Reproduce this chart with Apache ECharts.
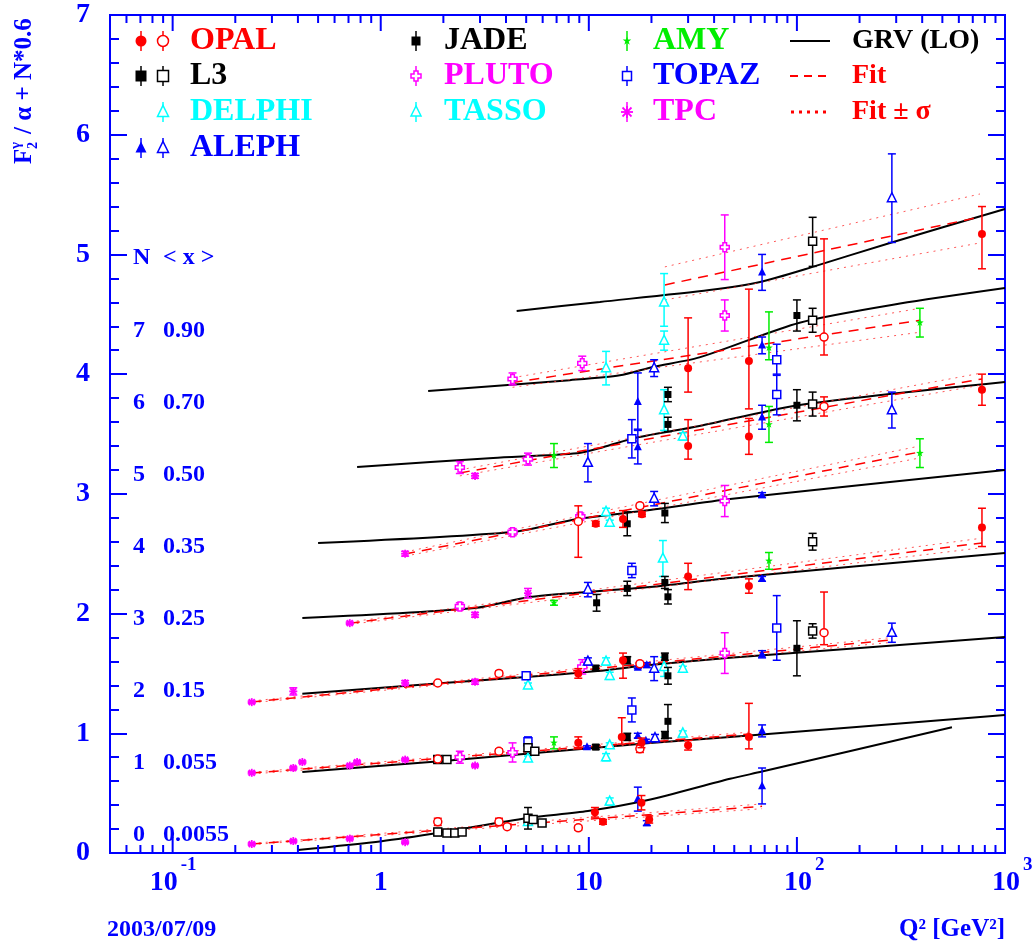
<!DOCTYPE html>
<html>
<head>
<meta charset="utf-8">
<script src="https://cdn.jsdelivr.net/npm/echarts@6/dist/echarts.min.js"></script>
<style>
html, body { margin: 0; background: #fff; }
#chart { width: 1036px; height: 944px; }
</style>
</head>
<body>
<div id="chart"></div>
<script>
// points: [Q2, F2/alpha + N*0.6, errDown, errUp]
var opalFilled = [
  [10.7, 0.34, 0.04, 0.04], [11.7, 0.26, 0.02, 0.02], [17.9, 0.42, 0.06, 0.06], [19.5, 0.28, 0.03, 0.03],
  [8.9, 0.92, 0.05, 0.05], [14.4, 0.97, 0.06, 0.16], [17.9, 0.92, 0.04, 0.04], [30, 0.90, 0.04, 0.04], [58.8, 0.97, 0.1, 0.28],
  [8.9, 1.50, 0.04, 0.04], [14.6, 1.61, 0.15, 0.06],
  [30, 2.31, 0.11, 0.11], [58.8, 2.23, 0.06, 0.06], [775, 2.72, 0.16, 0.16],
  [10.8, 2.75, 0.02, 0.02], [14.6, 2.79, 0.07, 0.07], [18, 2.83, 0.02, 0.02],
  [30, 3.40, 0.11, 0.22], [58.8, 3.48, 0.15, 0.15], [775, 3.87, 0.13, 0.13],
  [30, 4.05, 0.2, 0.42], [58.8, 4.11, 0.4, 0.6],
  [775, 5.17, 0.29, 0.23]
];
var opalOpen = [
  [1.88, 0.26, 0.03, 0.03], [3.7, 0.26, 0.03, 0.03], [4.05, 0.22, 0.01, 0.01], [8.9, 0.21, 0.02, 0.02],
  [1.88, 0.785, 0.01, 0.01], [3.7, 0.85, 0.02, 0.02], [17.6, 0.87, 0.03, 0.03],
  [1.88, 1.42, 0.01, 0.01], [3.7, 1.50, 0.02, 0.02], [17.6, 1.58, 0.02, 0.02], [135, 1.84, 0.1, 0.34],
  [8.9, 2.77, 0.3, 0.13], [17.6, 2.90, 0.02, 0.02],
  [135, 3.73, 0.08, 0.08],
  [135, 4.31, 0.15, 0.82]
];
var l3Open = [
  [1.88, 0.175, 0.03, 0.03], [2.08, 0.167, 0.01, 0.01], [2.27, 0.167, 0.01, 0.01], [2.46, 0.175, 0.01, 0.01],
  [5.1, 0.29, 0.09, 0.09], [5.4, 0.28, 0.02, 0.02], [5.96, 0.25, 0.02, 0.02],
  [1.88, 0.78, 0.01, 0.01], [2.08, 0.78, 0.01, 0.01], [5.1, 0.88, 0.02, 0.02], [5.5, 0.85, 0.01, 0.01],
  [119, 1.855, 0.06, 0.06], [119, 2.60, 0.07, 0.07], [119, 3.75, 0.1, 0.1], [119, 4.45, 0.1, 0.1], [119, 5.11, 0.21, 0.2]
];
var jade = [
  [10.8, 0.885, 0.02, 0.02], [15.3, 0.97, 0.03, 0.03], [23.2, 0.985, 0.03, 0.03], [24, 1.10, 0.14, 0.14],
  [10.8, 1.545, 0.02, 0.02], [15.3, 1.61, 0.03, 0.03], [23.2, 1.64, 0.03, 0.03], [24, 1.48, 0.07, 0.07], [100, 1.71, 0.23, 0.23],
  [10.9, 2.09, 0.07, 0.07], [15.3, 2.21, 0.06, 0.06], [23.2, 2.26, 0.05, 0.05], [24, 2.14, 0.06, 0.06],
  [15.3, 2.75, 0.1, 0.1], [23.2, 2.84, 0.08, 0.08],
  [24, 3.58, 0.06, 0.06], [100, 3.74, 0.13, 0.13],
  [24, 3.83, 0.06, 0.06], [100, 4.49, 0.13, 0.13]
];
var delphi = [
  [5.1, 0.26, 0.01, 0.01], [12.6, 0.43, 0.03, 0.03],
  [5.1, 0.79, 0.02, 0.02], [28.3, 1.0, 0.02, 0.02],
  [5.1, 1.40, 0.02, 0.02], [23, 1.555, 0.08, 0.08], [28.3, 1.54, 0.02, 0.02],
  [22.7, 2.46, 0.15, 0.15],
  [23, 3.70, 0.17, 0.17], [28.3, 3.48, 0.03, 0.03],
  [23, 4.28, 0.08, 0.08], [23, 4.60, 0.2, 0.24]
];
var tasso = [
  [12.1, 0.80, 0.03, 0.03], [12.6, 0.90, 0.02, 0.02],
  [12.1, 1.60, 0.03, 0.03], [12.6, 1.48, 0.03, 0.03],
  [12.1, 2.85, 0.03, 0.03], [12.6, 2.76, 0.02, 0.02],
  [12.1, 4.05, 0.14, 0.14]
];
var alephFilled = [
  [17.2, 0.45, 0.1, 0.1], [19, 0.25, 0.02, 0.02], [68, 0.56, 0.15, 0.15],
  [9.8, 0.885, 0.01, 0.01], [17.2, 0.98, 0.02, 0.02], [18.8, 0.94, 0.01, 0.01], [68, 1.02, 0.05, 0.05],
  [17.2, 1.55, 0.01, 0.01], [19, 1.57, 0.02, 0.02], [68, 1.66, 0.03, 0.03],
  [68, 2.29, 0.02, 0.02],
  [68, 2.99, 0.02, 0.02],
  [17.2, 3.39, 0.14, 0.14], [17.2, 3.77, 0.23, 0.24], [68, 3.64, 0.1, 0.1],
  [68, 4.24, 0.07, 0.07],
  [68, 4.85, 0.15, 0.15]
];
var alephOpen = [
  [20.8, 0.96, 0.03, 0.03],
  [9.9, 1.60, 0.03, 0.03], [20.6, 1.54, 0.1, 0.1], [286, 1.84, 0.08, 0.08],
  [9.9, 2.2, 0.06, 0.06],
  [20.6, 2.96, 0.06, 0.06],
  [9.9, 3.26, 0.16, 0.16], [286, 3.70, 0.15, 0.15],
  [20.6, 4.05, 0.07, 0.07],
  [286, 5.47, 0.37, 0.37]
];
var pluto = [
  [2.4, 0.80, 0.05, 0.05], [4.3, 0.84, 0.08, 0.08],
  [9.3, 1.555, 0.06, 0.06], [45, 1.67, 0.17, 0.17],
  [2.4, 2.06, 0.03, 0.03],
  [4.3, 2.68, 0.03, 0.03], [9.1, 2.81, 0.03, 0.03], [45, 2.94, 0.13, 0.13],
  [2.4, 3.22, 0.05, 0.05], [5.1, 3.29, 0.05, 0.05],
  [4.3, 3.96, 0.05, 0.05], [9.3, 4.09, 0.06, 0.06], [45, 4.49, 0.13, 0.13],
  [45, 5.06, 0.27, 0.27]
];
var amy = [
  [6.8, 0.92, 0.05, 0.05],
  [6.8, 2.09, 0.02, 0.02], [73.4, 2.44, 0.07, 0.07],
  [390, 3.34, 0.12, 0.12],
  [6.8, 3.32, 0.1, 0.1], [73.4, 3.58, 0.15, 0.15],
  [73.4, 4.22, 0.1, 0.3], [390, 4.43, 0.12, 0.12]
];
var topaz = [
  [5.1, 0.93, 0.04, 0.04], [16.1, 1.195, 0.1, 0.1],
  [5.0, 1.48, 0.02, 0.02], [80, 1.88, 0.27, 0.27],
  [16.1, 2.36, 0.06, 0.06],
  [16.1, 3.46, 0.16, 0.16], [80, 3.83, 0.17, 0.17],
  [80, 4.12, 0.13, 0.13]
];
var tpc = [
  [0.24, 0.075, 0.01, 0.01], [0.38, 0.10, 0.01, 0.01], [0.71, 0.12, 0.01, 0.01], [1.31, 0.09, 0.01, 0.01],
  [0.24, 0.67, 0.01, 0.01], [0.38, 0.71, 0.01, 0.01], [0.42, 0.76, 0.01, 0.01], [0.71, 0.73, 0.01, 0.01],
  [0.77, 0.76, 0.01, 0.01], [1.31, 0.78, 0.01, 0.01], [2.84, 0.73, 0.01, 0.01],
  [0.24, 1.26, 0.01, 0.01], [0.38, 1.35, 0.03, 0.03], [1.31, 1.42, 0.02, 0.02], [2.84, 1.43, 0.02, 0.02],
  [0.71, 1.92, 0.01, 0.01], [2.84, 1.99, 0.02, 0.02], [5.1, 2.17, 0.04, 0.04],
  [1.31, 2.50, 0.02, 0.02],
  [2.84, 3.15, 0.02, 0.02]
];

// GRV (LO) curves, one per N bin
var grv = [
  [[0.4, 0.025], [1.01, 0.098], [2, 0.175], [5, 0.29], [9.9, 0.35], [19, 0.44], [47.7, 0.62], [68, 0.68], [556, 1.05]],
  [[0.42, 0.677], [2, 0.769], [19.7, 0.919], [47.7, 0.969], [1000, 1.153]],
  [[0.42, 1.33], [2, 1.42], [5, 1.47], [11, 1.52], [19.7, 1.57], [47.7, 1.63], [1000, 1.805]],
  [[0.42, 1.963], [2.84, 2.047], [5.2, 2.139], [19.7, 2.222], [47.7, 2.297], [1000, 2.506]],
  [[0.5, 2.59], [4.3, 2.682], [8.8, 2.79], [19.7, 2.865], [47.7, 2.957], [1000, 3.2]],
  [[0.77, 3.225], [3.47, 3.30], [8.8, 3.34], [11.7, 3.39], [17, 3.47], [34, 3.567], [103, 3.743], [1000, 3.935]],
  [[1.69, 3.86], [8.1, 3.95], [14.1, 3.99], [20.3, 4.06], [34, 4.14], [103, 4.43], [313, 4.59], [1000, 4.72]],
  [[4.5, 4.528], [11.3, 4.603], [38, 4.703], [66.5, 4.77], [119, 4.896], [280, 5.096], [1000, 5.38]]
];
// fit and fit +- sigma
var fit = [
  [[0.24, 0.075], [68, 0.39]],
  [[0.24, 0.668], [59.5, 0.994]],
  [[0.24, 1.262], [286, 1.78]],
  [[0.71, 1.92], [775, 2.59]],
  [[1.31, 2.498], [390, 3.35]],
  [[2.4, 3.175], [775, 3.96]],
  [[4.3, 3.93], [390, 4.45]],
  [[23.2, 4.745], [758, 5.313]]
];
var fitHi = [
  [[0.24, 0.08], [68, 0.41]],
  [[0.24, 0.675], [59.5, 1.01]],
  [[0.24, 1.27], [286, 1.80]],
  [[0.71, 1.93], [775, 2.63]],
  [[1.31, 2.515], [390, 3.40]],
  [[2.4, 3.20], [775, 4.01]],
  [[4.3, 3.97], [390, 4.55]],
  [[23.2, 4.896], [758, 5.505]]
];
var fitLo = [
  [[0.24, 0.07], [68, 0.37]],
  [[0.24, 0.66], [59.5, 0.98]],
  [[0.24, 1.255], [286, 1.76]],
  [[0.71, 1.91], [775, 2.55]],
  [[1.31, 2.48], [390, 3.30]],
  [[2.4, 3.15], [775, 3.91]],
  [[4.3, 3.89], [390, 4.35]],
  [[23.2, 4.62], [758, 5.096]]
];

var nBins = ['0', '1', '2', '3', '4', '5', '6', '7'];
var meanX = ['0.0055', '0.055', '0.15', '0.25', '0.35', '0.50', '0.70', '0.90'];
var xMajor = [0.1, 1, 10, 100, 1000];
var xMinor = [0.06, 0.07, 0.08, 0.09, 0.2, 0.3, 0.4, 0.5, 0.6, 0.7, 0.8, 0.9,
  2, 3, 4, 5, 6, 7, 8, 9, 20, 30, 40, 50, 60, 70, 80, 90, 200, 300, 400, 500, 600, 700, 800, 900];
var xBase = ['10', '1', '10', '10', '10'];
var xSup = ['-1', '', '', '2', '3'];

var BLUE = '#0000ff';
var SERIF = '"Liberation Serif", "Times New Roman", serif';

function marker(shape, cx, cy, c, s) {
  var h = s / 2;
  switch (shape) {
    case 'circle':
      return [{ type: 'circle', shape: { cx: cx, cy: cy, r: h }, style: { fill: c } }];
    case 'ocircle':
      return [{ type: 'circle', shape: { cx: cx, cy: cy, r: h }, style: { fill: '#fff', stroke: c, lineWidth: 1.5 } }];
    case 'square':
      return [{ type: 'rect', shape: { x: cx - h, y: cy - h, width: s, height: s }, style: { fill: c } }];
    case 'osquare':
      return [{ type: 'rect', shape: { x: cx - h, y: cy - h, width: s, height: s }, style: { fill: '#fff', stroke: c, lineWidth: 1.5 } }];
    case 'triangle':
    case 'otriangle':
      return [{
        type: 'polygon',
        shape: { points: [[cx, cy - s * 0.6], [cx - h, cy + s * 0.4], [cx + h, cy + s * 0.4]] },
        style: shape === 'triangle' ? { fill: c } : { fill: '#fff', stroke: c, lineWidth: 1.5 }
      }];
    case 'ocross':
      var a = s * 0.2;
      return [{
        type: 'polygon',
        shape: { points: [[cx - a, cy - h], [cx + a, cy - h], [cx + a, cy - a], [cx + h, cy - a], [cx + h, cy + a],
          [cx + a, cy + a], [cx + a, cy + h], [cx - a, cy + h], [cx - a, cy + a], [cx - h, cy + a], [cx - h, cy - a], [cx - a, cy - a]] },
        style: { fill: '#fff', stroke: c, lineWidth: 1.5 }
      }];
    case 'star':
      var pts = [];
      for (var i = 0; i < 10; i++) {
        var r = i % 2 ? h * 0.4 : h;
        var ang = -Math.PI / 2 + i * Math.PI / 5;
        pts.push([cx + r * Math.cos(ang), cy + r * Math.sin(ang)]);
      }
      return [{ type: 'polygon', shape: { points: pts }, style: { fill: c } }];
    case 'asterisk':
      var d = h * 0.75;
      return [
        { type: 'line', shape: { x1: cx, y1: cy - h, x2: cx, y2: cy + h }, style: { stroke: c, lineWidth: 1.8 } },
        { type: 'line', shape: { x1: cx - h, y1: cy, x2: cx + h, y2: cy }, style: { stroke: c, lineWidth: 1.8 } },
        { type: 'line', shape: { x1: cx - d, y1: cy - d, x2: cx + d, y2: cy + d }, style: { stroke: c, lineWidth: 1.8 } },
        { type: 'line', shape: { x1: cx - d, y1: cy + d, x2: cx + d, y2: cy - d }, style: { stroke: c, lineWidth: 1.8 } }
      ];
  }
  return [];
}

function errorSeries(name, data, shape, color, size) {
  return {
    type: 'custom',
    name: name,
    z: 5,
    data: data,
    encode: { x: 0, y: 1 },
    renderItem: function (params, api) {
      var q = api.value(0), v = api.value(1);
      var c = api.coord([q, v]);
      var top = api.coord([q, v + api.value(3)])[1];
      var bot = api.coord([q, v - api.value(2)])[1];
      var ls = { stroke: color, lineWidth: 1.5 };
      var kids = [
        { type: 'line', shape: { x1: c[0], y1: top, x2: c[0], y2: bot }, style: ls },
        { type: 'line', shape: { x1: c[0] - 4, y1: top, x2: c[0] + 4, y2: top }, style: ls },
        { type: 'line', shape: { x1: c[0] - 4, y1: bot, x2: c[0] + 4, y2: bot }, style: ls }
      ];
      return { type: 'group', children: kids.concat(marker(shape, c[0], c[1], color, size)) };
    }
  };
}

var series = [];
grv.forEach(function (d, i) {
  series.push({ type: 'line', name: 'GRV' + i, data: d, showSymbol: false, smooth: 0.25, z: 2,
    lineStyle: { color: '#000', width: 2 } });
});
fitHi.concat(fitLo).forEach(function (d, i) {
  series.push({ type: 'line', name: 'sig' + i, data: d, showSymbol: false, z: 2,
    lineStyle: { color: '#ff3030', width: 1, type: [2, 5], opacity: 0.8 } });
});
fit.forEach(function (d, i) {
  series.push({ type: 'line', name: 'fit' + i, data: d, showSymbol: false, z: 3,
    lineStyle: { color: '#ff0000', width: 1.5, type: [10, 7] } });
});

series.push(errorSeries('TPC', tpc, 'asterisk', '#ff00ff', 8));
series.push(errorSeries('PLUTO', pluto, 'ocross', '#ff00ff', 9));
series.push(errorSeries('TASSO', tasso, 'otriangle', '#00ffff', 9));
series.push(errorSeries('DELPHI', delphi, 'otriangle', '#00ffff', 9));
series.push(errorSeries('AMY', amy, 'star', '#00ee00', 8));
series.push(errorSeries('TOPAZ', topaz, 'osquare', '#0000ff', 8));
series.push(errorSeries('L3', l3Open, 'osquare', '#000', 8));
series.push(errorSeries('JADE', jade, 'square', '#000', 7));
series.push(errorSeries('ALEPH', alephOpen, 'otriangle', '#0000ff', 9));
series.push(errorSeries('ALEPH', alephFilled, 'triangle', '#0000ff', 8));
series.push(errorSeries('OPAL', opalOpen, 'ocircle', '#ff0000', 8));
series.push(errorSeries('OPAL', opalFilled, 'circle', '#ff0000', 8));

// log-axis ticks on bottom and top edges
function tickSeries(vals, len) {
  return {
    type: 'custom', z: 6, silent: true,
    data: vals.map(function (v) { return [v, 0]; }),
    encode: { x: 0, y: 1 },
    renderItem: function (params, api) {
      var cs = params.coordSys;
      var x = api.coord([api.value(0), 0])[0];
      var st = { stroke: BLUE, lineWidth: 2 };
      return { type: 'group', children: [
        { type: 'line', shape: { x1: x, y1: cs.y + cs.height, x2: x, y2: cs.y + cs.height - len }, style: st },
        { type: 'line', shape: { x1: x, y1: cs.y, x2: x, y2: cs.y + len }, style: st }
      ] };
    }
  };
}
series.push(tickSeries(xMajor, 16));
series.push(tickSeries(xMinor, 8));
series.push({
  type: 'custom', z: 6, silent: true,
  data: xMajor.map(function (v) { return [v, 0]; }),
  encode: { x: 0, y: 1 },
  renderItem: function (params, api) {
    var cs = params.coordSys;
    var x = api.coord([api.value(0), 0])[0];
    var y = cs.y + cs.height + 30;
    var base = xBase[params.dataIndex], sup = xSup[params.dataIndex];
    var font = 'bold 28px ' + SERIF;
    if (!sup) {
      return { type: 'text', x: x, y: y, style: { text: base, font: font, fill: BLUE, align: 'center', verticalAlign: 'middle' } };
    }
    var bx = sup.length > 1 ? x - 9 : x + 1;
    return { type: 'group', children: [
      { type: 'text', x: bx, y: y, style: { text: base, font: font, fill: BLUE, align: 'center', verticalAlign: 'middle' } },
      { type: 'text', x: bx + 17, y: y - 18, style: { text: sup, font: 'bold 19px ' + SERIF, fill: BLUE, align: 'left', verticalAlign: 'middle' } }
    ] };
  }
});

// legend and annotations
var graphics = [];
function txt(x, y, s, size, color, align) {
  graphics.push({ type: 'text', x: x, y: y, style: { text: s, font: 'bold ' + size + 'px ' + SERIF, fill: color, align: align || 'left', verticalAlign: 'middle' } });
}
function legMark(shape, x, y, c, s) {
  graphics.push({ type: 'line', shape: { x1: x, y1: y - 10, x2: x, y2: y + 10 }, style: { stroke: c, lineWidth: 1.5 } });
  marker(shape, x, y, c, s).forEach(function (m) { graphics.push(m); });
}
var rows = [41, 76, 112, 148];
var LF = 32, LF4 = 28;
legMark('circle', 141, rows[0], '#ff0000', 11); legMark('ocircle', 163, rows[0], '#ff0000', 11);
txt(190, rows[0], 'OPAL', LF, '#ff0000');
legMark('square', 141, rows[1], '#000', 11); legMark('osquare', 163, rows[1], '#000', 11);
txt(190, rows[1], 'L3', LF, '#000');
legMark('otriangle', 163, rows[2], '#00ffff', 11);
txt(190, rows[2], 'DELPHI', LF, '#00ffff');
legMark('triangle', 141, rows[3], '#0000ff', 11); legMark('otriangle', 163, rows[3], '#0000ff', 11);
txt(190, rows[3], 'ALEPH', LF, '#0000ff');
legMark('square', 416, rows[0], '#000', 9); txt(444, rows[0], 'JADE', LF, '#000');
legMark('ocross', 416, rows[1], '#ff00ff', 10); txt(444, rows[1], 'PLUTO', LF, '#ff00ff');
legMark('otriangle', 416, rows[2], '#00ffff', 10); txt(444, rows[2], 'TASSO', LF, '#00ffff');
legMark('star', 627, rows[0], '#00ee00', 9); txt(653, rows[0], 'AMY', LF, '#00ee00');
legMark('osquare', 627, rows[1], '#0000ff', 9); txt(653, rows[1], 'TOPAZ', LF, '#0000ff');
legMark('asterisk', 627, rows[2], '#ff00ff', 12); txt(653, rows[2], 'TPC', LF, '#ff00ff');
graphics.push({ type: 'line', shape: { x1: 790, y1: rows[0], x2: 830, y2: rows[0] }, style: { stroke: '#000', lineWidth: 2 } });
graphics.push({ type: 'line', shape: { x1: 790, y1: rows[1], x2: 830, y2: rows[1] }, style: { stroke: '#ff0000', lineWidth: 2, lineDash: [8, 6] } });
graphics.push({ type: 'line', shape: { x1: 791, y1: rows[2], x2: 830, y2: rows[2] }, style: { stroke: '#ff0000', lineWidth: 3, lineDash: [3, 5] } });
txt(852, rows[0], 'GRV (LO)', LF4, '#000');
txt(852, rows[1], 'Fit', LF4, '#ff0000');
txt(852, rows[2], 'Fit \u00b1 \u03c3', LF4, '#ff0000');

txt(133, 258, 'N', 24, BLUE); txt(163, 258, '< x >', 24, BLUE);
nBins.forEach(function (n, i) {
  var y = 835 - i * 72;
  txt(133, y, n, 24, BLUE);
  txt(163, y, meanX[i], 24, BLUE);
});
txt(107, 930, '2003/07/09', 24, BLUE);
txt(1005, 930, 'Q\u00b2 [GeV\u00b2]', 25, BLUE, 'right');

graphics.push({
  type: 'group', x: 25, y: 164, rotation: Math.PI / 2,
  children: [
    { type: 'text', x: 0, y: 0, style: { text: 'F', font: 'bold 25px ' + SERIF, fill: BLUE, verticalAlign: 'middle' } },
    { type: 'text', x: 15, y: 8, style: { text: '2', font: 'bold 14px ' + SERIF, fill: BLUE, verticalAlign: 'middle' } },
    { type: 'text', x: 15, y: -9, style: { text: '\u03b3', font: 'bold 15px ' + SERIF, fill: BLUE, verticalAlign: 'middle' } },
    { type: 'text', x: 30, y: 0, style: { text: '/ \u03b1 + N*0.6', font: 'bold 25px ' + SERIF, fill: BLUE, verticalAlign: 'middle' } }
  ]
});

var yAxisBase = {
  type: 'value', min: 0, max: 7, interval: 1,
  axisLine: { show: true, lineStyle: { color: BLUE, width: 2 } },
  axisTick: { show: true, inside: true, length: 17, lineStyle: { color: BLUE, width: 2 } },
  minorTick: { show: true, splitNumber: 5, length: 9, lineStyle: { color: BLUE, width: 2 } },
  splitLine: { show: false }
};

var chart = echarts.init(document.getElementById('chart'));
chart.setOption({
  animation: false,
  backgroundColor: '#fff',
  grid: { left: 110, right: 31, top: 15, bottom: 91, show: true, borderColor: BLUE, borderWidth: 2, containLabel: false, outerBoundsMode: 'none' },
  xAxis: {
    type: 'log', logBase: 10, min: 0.05, max: 1000,
    axisLine: { show: true, lineStyle: { color: BLUE, width: 2 } },
    axisTick: { show: false }, axisLabel: { show: false }, splitLine: { show: false }
  },
  yAxis: [
    Object.assign({}, yAxisBase, {
      position: 'left',
      axisLabel: { show: true, margin: 20, color: BLUE, fontSize: 28, fontWeight: 'bold', fontFamily: SERIF }
    }),
    Object.assign({}, yAxisBase, { position: 'right', axisLabel: { show: false } })
  ],
  graphic: graphics,
  series: series
});
</script>
</body>
</html>
